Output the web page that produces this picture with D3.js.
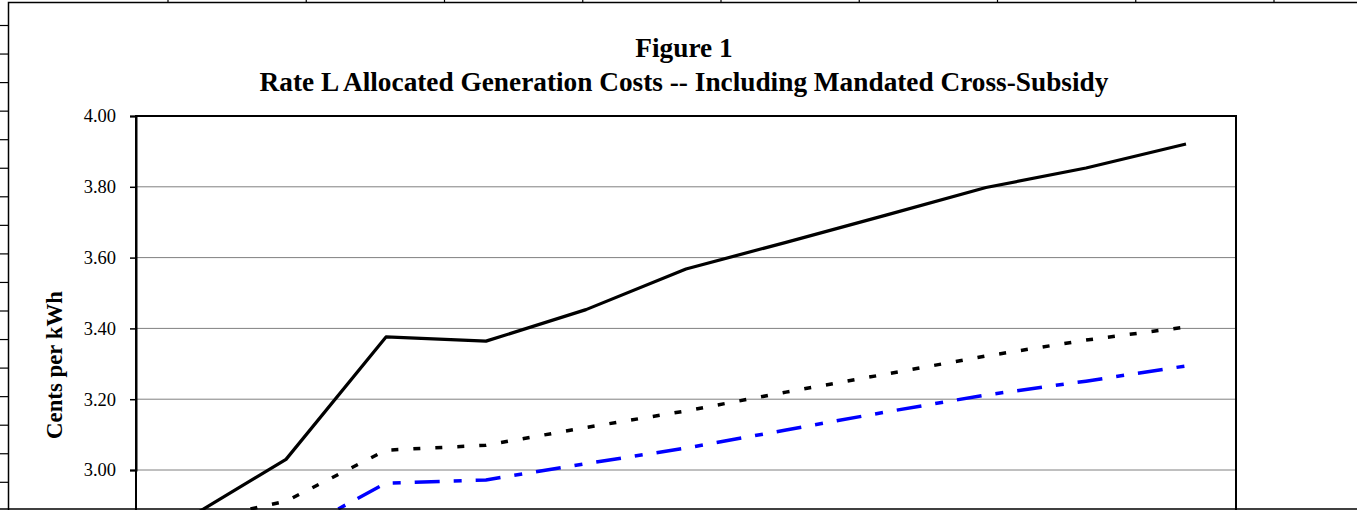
<!DOCTYPE html>
<html lang="en">
<head>
<meta charset="UTF-8">
<title>Figure 1</title>
<style>
  body { margin: 0; background: #fff; overflow: hidden; }
  svg { display: block; font-family: "Liberation Serif", "Times New Roman", serif; }
</style>
</head>
<body>
<div class="canvas"></div>
<script src="https://cdnjs.cloudflare.com/ajax/libs/d3/7.8.5/d3.min.js"></script>
<script>
// data (x labels sit below the visible crop)
const years = ['2008', '2009', '2010', '2011', '2012', '2013', '2014', '2015', '2016', '2017', '2018'];
const solidCosts = [2.86, 3.03, 3.376, 3.364, 3.453, 3.568, 3.643, 3.72, 3.798, 3.853, 3.921];
const dottedCosts = [2.85, 2.912, 3.056, 3.07, 3.12, 3.167, 3.22, 3.271, 3.322, 3.367, 3.404];
const blueCosts = [2.76, 2.81, 2.963, 2.972, 3.018, 3.062, 3.113, 3.164, 3.212, 3.251, 3.294];
const yTicks = [3.00, 3.20, 3.40, 3.60, 3.80, 4.00];

const width = 1357, height = 510;

const svg = d3.select('.canvas').append('svg')
  .attr('width', width)
  .attr('height', height);

// spreadsheet cell lines peeking out round the chart object
const sheet = svg.append('g').attr('stroke', '#000').attr('stroke-width', 1.2);
sheet.selectAll('.col')
  .data(d3.range(168, width, 138.25))
  .enter().append('line')
  .attr('x1', d => d).attr('x2', d => d)
  .attr('y1', 0).attr('y2', 3);
sheet.selectAll('.row')
  .data(d3.range(25.5, height, 28.55))
  .enter().append('line')
  .attr('x1', 0).attr('x2', 8)
  .attr('y1', d => d).attr('y2', d => d);

// chart frame (left and top edges are visible)
svg.append('path')
  .attr('d', `M 8.5 ${height} L 8.5 2.5 L ${width} 2.5`)
  .attr('fill', 'none')
  .attr('stroke', '#000')
  .attr('stroke-width', 1.5);

// plot area
const left = 136, right = 1236;
const x = d3.scalePoint().domain(years).range([left, right]).padding(0.5);
const y = d3.scaleLinear().domain([3, 4]).range([470, 116]);
const bottom = y(2.6);

const grid = svg.append('g');
grid.selectAll('line')
  .data(yTicks.filter(d => d < 4))
  .enter().append('line')
  .attr('x1', left).attr('x2', right)
  .attr('y1', d => y(d)).attr('y2', d => y(d))
  .attr('stroke', '#808080')
  .attr('stroke-width', 1);

svg.append('rect')
  .attr('x', left).attr('y', y(4))
  .attr('width', right - left).attr('height', bottom - y(4))
  .attr('fill', 'none')
  .attr('stroke', '#000')
  .attr('stroke-width', 2);

const yAxis = svg.append('g')
  .attr('transform', `translate(${left},0)`)
  .call(d3.axisLeft(y).tickValues(yTicks).tickSize(6).tickPadding(14).tickFormat(d3.format('.2f')));
yAxis.select('.domain').attr('stroke-width', 2);
yAxis.selectAll('.tick line').attr('stroke-width', 1.5);
yAxis.selectAll('text')
  .style('font-family', '"Liberation Serif", serif')
  .style('font-size', '18.5px')
  .attr('fill', '#000');

// the three series
const line = d3.line()
  .x((d, i) => x(years[i]))
  .y(d => y(d));

svg.append('path')
  .datum(dottedCosts)
  .attr('d', line)
  .attr('fill', 'none')
  .attr('stroke', '#000')
  .attr('stroke-width', 3.5)
  .attr('stroke-dasharray', '7,15');

svg.append('path')
  .datum(blueCosts)
  .attr('d', line)
  .attr('fill', 'none')
  .attr('stroke', '#0000ff')
  .attr('stroke-width', 3.5)
  .attr('stroke-dasharray', '25,14,8,14');

svg.append('path')
  .datum(solidCosts)
  .attr('d', line)
  .attr('fill', 'none')
  .attr('stroke', '#000')
  .attr('stroke-width', 3.2)
  .attr('stroke-linejoin', 'round');

// titles
svg.append('text')
  .attr('x', 684).attr('y', 57)
  .attr('text-anchor', 'middle')
  .style('font-size', '27.3px')
  .style('font-weight', 'bold')
  .text('Figure 1');

svg.append('text')
  .attr('x', 684).attr('y', 91)
  .attr('text-anchor', 'middle')
  .style('font-size', '27.3px')
  .style('font-weight', 'bold')
  .text('Rate L Allocated Generation Costs -- Including Mandated Cross-Subsidy');

svg.append('text')
  .attr('transform', 'translate(62,365) rotate(-90)')
  .attr('text-anchor', 'middle')
  .style('font-size', '22.8px')
  .style('font-weight', 'bold')
  .text('Cents per kWh');

// bottom edge of the crop
svg.append('line')
  .attr('x1', 0).attr('x2', width)
  .attr('y1', 509).attr('y2', 509)
  .attr('stroke', '#000')
  .attr('stroke-width', 1.5);
</script>
</body>
</html>
